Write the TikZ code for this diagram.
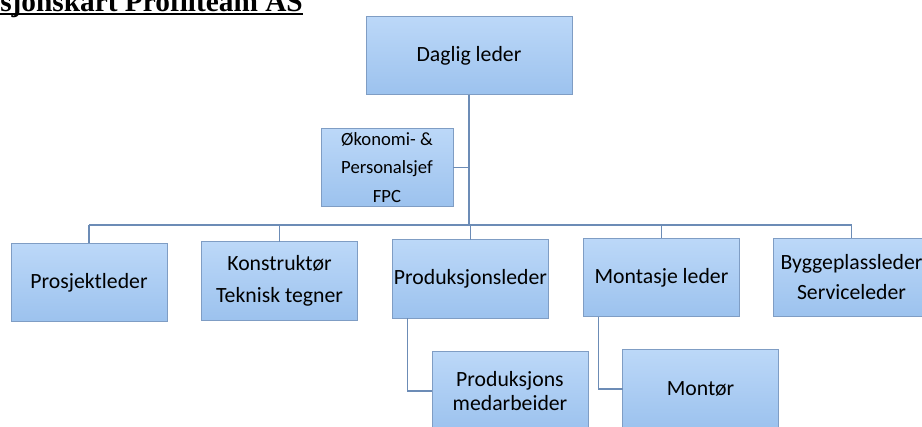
\documentclass[tikz,border=0pt]{standalone}
\usepackage{fontspec}
\setmainfont{Carlito}
\newfontfamily\titlefont{Liberation Serif}
\definecolor{boxtop}{HTML}{BCD8F8}
\definecolor{boxbot}{HTML}{9CC2EE}
\definecolor{boxline}{HTML}{7F9DC4}
\definecolor{conn}{HTML}{6C8CB6}
\begin{document}
\begin{tikzpicture}[x=0.75pt,y=-0.75pt,
  orgbox/.style={draw=boxline, line width=0.6pt, top color=boxtop, bottom color=boxbot,
    inner sep=0pt, outer sep=0pt, align=center, text=black,
    minimum width=117pt, minimum height=59pt, font=\fontsize{16.3}{24}\selectfont},
  link/.style={draw=conn, line width=1.1pt}]
\useasboundingbox (0,0) rectangle (922,426);
\clip (0,0) rectangle (922,426);
\fill[white] (0,0) rectangle (922,426);

% title
\node[anchor=base west, inner sep=0pt, font=\titlefont\bfseries\fontsize{22}{26}\selectfont] (title) at (0,11) {sjonskart Profilteam AS};
\draw[line width=1.5pt] ([yshift=-2.5pt]title.base west) -- ([yshift=-2.5pt]title.base east);

% boxes
\node[orgbox, minimum width=154.5pt] (daglig) at (469,55.5) {Daglig leder};
\node[orgbox, minimum width=99pt, font=\fontsize{14}{21.4}\selectfont] (okonomi) at (387,167.5) {Økonomi- \&\\Personalsjef\\FPC};
\node[orgbox] (prosjekt) at (89,282.5) {Prosjektleder};
\node[orgbox] (konstr) at (279.5,281) {Konstruktør\\Teknisk tegner};
\node[orgbox] (prodleder) at (470.5,279) {Produksjonsleder};
\node[orgbox] (montasje) at (661.5,277.5) {Montasje leder};
\node[orgbox, font=\fontsize{16.3}{22.5}\selectfont] (bygge) at (851.5,277.5) {Byggeplassleder\\Serviceleder};
\node[orgbox, font=\fontsize{16.3}{18}\selectfont] (medarb) at (510,391) {Produksjons\\medarbeider};
\node[orgbox] (montor) at (700.5,389) {Montør};

% connectors
\coordinate (bar) at (469,225);
\draw[link] (daglig.south) -- (bar);
\draw[link] (okonomi.east) -- (okonomi.east -| daglig.south);
\draw[link] (prosjekt.north |- bar) -- (bygge.north |- bar);
\draw[link] (prosjekt.north |- bar) -- (prosjekt.north);
\draw[link] (konstr.north |- bar) -- (konstr.north);
\draw[link] (prodleder.north |- bar) -- (prodleder.north);
\draw[link] (montasje.north |- bar) -- (montasje.north);
\draw[link] (bygge.north |- bar) -- (bygge.north);
\draw[link] ([xshift=11.25pt]prodleder.south west) |- (medarb.west);
\draw[link] ([xshift=11.25pt]montasje.south west) |- (montor.west);
\end{tikzpicture}
\end{document}
